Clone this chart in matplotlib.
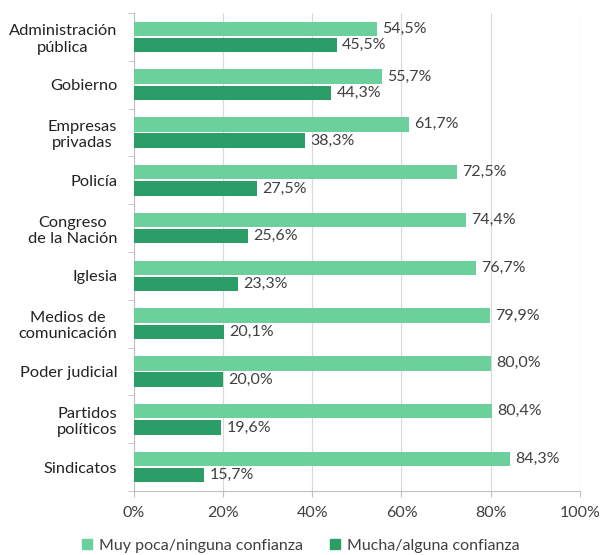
import numpy as np
import matplotlib.pyplot as plt
from matplotlib.patches import Patch

# Confianza en instituciones (porcentajes)
categorias = ["Administración\npública", "Gobierno", "Empresas\nprivadas", "Policía",
              "Congreso\nde la Nación", "Iglesia", "Medios de\ncomunicación",
              "Poder judicial", "Partidos\npolíticos", "Sindicatos"]
poca_confianza = [54.5, 55.7, 61.7, 72.5, 74.4, 76.7, 79.9, 80.0, 80.4, 84.3]
alguna_confianza = [45.5, 44.3, 38.3, 27.5, 25.6, 23.3, 20.1, 20.0, 19.6, 15.7]
series_nombres = ["Muy poca/ninguna confianza", "Mucha/alguna confianza"]
ticks_x = [0, 20, 40, 60, 80, 100]

plt.rcParams['font.family'] = ['Lato', 'DejaVu Sans']
c_claro = '#6bd09c'
c_oscuro = '#2b9d66'
c_texto = '#404040'

fig = plt.figure(figsize=(6.02, 5.55), dpi=100)
ax = fig.add_axes([0.2226, 0.1153, 0.7404, 0.8613])

y = np.arange(len(categorias))
h = 0.3
ax.barh(y - 0.17, poca_confianza, height=h, color=c_claro, zorder=3)
ax.barh(y + 0.17, alguna_confianza, height=h, color=c_oscuro, zorder=3)

def fmt(v):
    return f"{v:.1f}%".replace('.', ',')

for yi, v in zip(y, poca_confianza):
    ax.text(v + 1.2, yi - 0.17, fmt(v), va='center', ha='left', fontsize=11.5, color=c_texto)
for yi, v in zip(y, alguna_confianza):
    ax.text(v + 1.2, yi + 0.17, fmt(v), va='center', ha='left', fontsize=11.5, color=c_texto)

ax.set_xlim(0, 100)
ax.set_ylim(len(categorias) - 0.5, -0.5)
ax.set_xticks(ticks_x)
ax.set_xticklabels([f"{t}%" for t in ticks_x], fontsize=11.5, color=c_texto)
ax.set_yticks(y)
ax.set_yticklabels(categorias, fontsize=11.8, color='#222222', multialignment='center')
ax.tick_params(axis='y', length=0, pad=12)
ax.set_yticks(np.arange(-0.5, len(categorias), 1), minor=True)
ax.tick_params(axis='y', which='minor', length=4, color='#bfbfbf')
ax.tick_params(axis='x', length=4, color='#bfbfbf', pad=7)

ax.grid(axis='x', color='#d9d9d9', lw=0.8, zorder=0)
for s in ['top', 'right']:
    ax.spines[s].set_visible(False)
for s in ['left', 'bottom']:
    ax.spines[s].set_color('#bfbfbf')

handles = [Patch(color=c_claro), Patch(color=c_oscuro)]
fig.legend(handles, series_nombres, loc='lower center', bbox_to_anchor=(0.5, -0.022),
           ncol=2, frameon=False, fontsize=11.5, handlelength=0.6, handleheight=0.6,
           handletextpad=0.45, columnspacing=1.7, labelcolor=c_texto)

fig.savefig('out.png', dpi=100)
